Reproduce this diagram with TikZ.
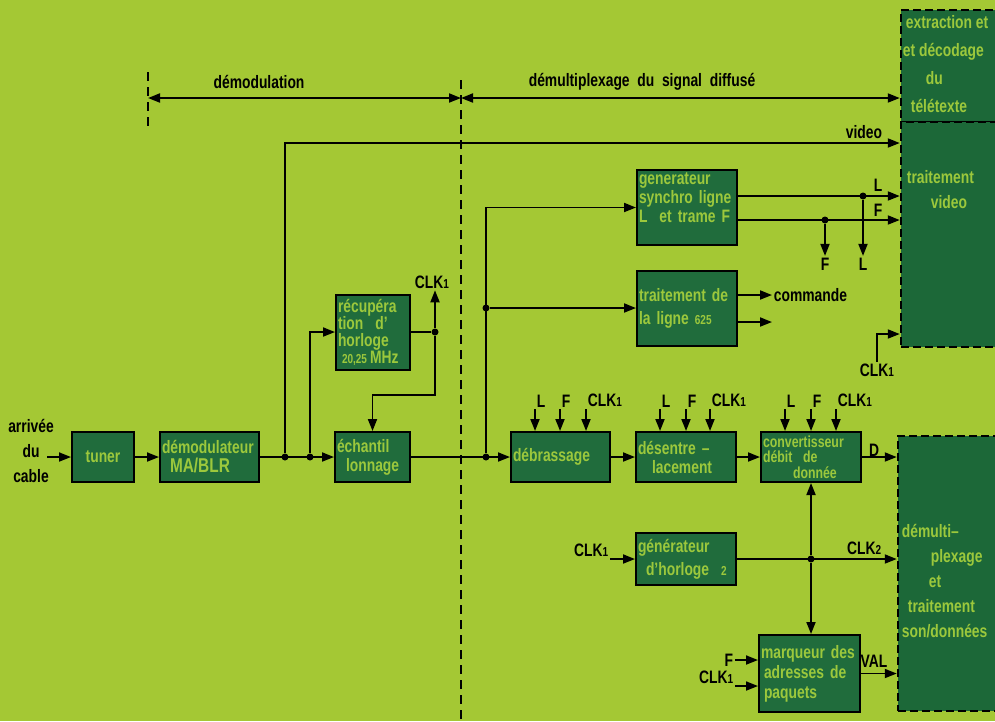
\documentclass[tikz,border=0pt]{standalone}
\usepackage{fontspec}
\setmainfont{Liberation Sans}[FakeStretch=0.77]
\usetikzlibrary{arrows.meta, positioning}

\definecolor{vertfond}{RGB}{164,200,52}
\definecolor{vertbloc}{RGB}{32,108,60}
\definecolor{vertzone}{RGB}{28,104,56}
\definecolor{vertinscr}{RGB}{156,200,60}
\newcommand{\lignes}[1]{\fontsize{18}{#1}\selectfont\bfseries}
\newcommand{\petit}{\fontsize{13}{13}\selectfont}
\newcommand{\clkun}{CLK{\petit 1}}

\begin{document}
\begin{tikzpicture}[x=1pt, y=-1pt, >={Triangle[length=12pt,width=9pt]}, line width=1.8pt, font=\lignes{19},
	bloc/.style={draw, line width=2pt, fill=vertbloc, text=vertinscr, inner sep=2pt, align=left, minimum height=50pt},
	zone/.style={draw, line width=2.5pt, dash pattern=on 8pt off 4pt, fill=vertzone},
	dot/.style={circle, fill=black, inner sep=0pt, minimum size=7pt},
	lbl/.style={inner sep=1pt},
	marque/.style={line width=1.4pt, dash pattern=on 9pt off 6pt}]
				\fill[vertfond] (0,0) rectangle (995,721);
				\useasboundingbox (0,0) rectangle (995,721);
				\clip (0,0) rectangle (995,721);
				
				\node[zone, minimum width=110pt, minimum height=112pt] (telet) at (956,66) {};
				\node[zone, minimum width=110pt, minimum height=225pt] (tvid) at (956,234.5) {};
				\node[zone, minimum width=112pt, minimum height=275pt] (demux) at (954,573.5) {};
				\node[lbl, text=vertinscr, align=left, anchor=west, font=\lignes{28}] (telettxt) at (901,64) {\hspace*{3pt}extraction et\\et décodage\\\hspace*{23pt}du\\\hspace*{8pt}télétexte};
				\node[lbl, text=vertinscr, align=left, anchor=west, font=\lignes{25}] (tvidtxt) at (905,190) {traitement\\\hspace*{24pt}video};
				\node[lbl, text=vertinscr, align=left, anchor=west, font=\lignes{25}] (demuxtxt) at (900,581) {démulti–\\\hspace*{29pt}plexage\\\hspace*{27pt}et\\\hspace*{6pt}traitement\\son/données};
				
				\coordinate (gA) at (148,98);
				\coordinate (gB) at (461,98);
				\draw[marque] (148,72) -- (148,128);
				\draw[marque] (461,80) -- (461,721);
				\draw[<->] (gA) -- (gB);
				\draw[<->] (gB) -- (gB -| telet.west);
				\node[lbl] (tdemod) at (259,82) {démodulation};
				\node[lbl] (tdemux) at (642,82) {démultiplexage~~du~~signal~~diffusé};
				
				\node[lbl, align=center, font=\lignes{25}] (arr) at (31,451) {arrivée\\du\\cable};
				\node[bloc, text width=58pt, align=center] (tuner) at (103,457) {tuner};
				\node[bloc, text width=95pt] (demod) at (209.5,457) {démodulateur\\\hspace*{8pt}{\fontsize{20}{20}\selectfont MA/BLR}};
				\node[bloc, text width=71pt] (echant) at (372.5,457) {échantil\\\hspace*{9pt}lonnage};
				\node[bloc, text width=70pt, minimum height=75pt, font=\lignes{17}] (recup) at (373,332) {récupéra\\tion~~d’\\horloge\\\hspace*{4pt}{\petit 20,25}\,MHz};
				\node[bloc, text width=96pt, minimum height=75pt] (gsync) at (687,207.5) {generateur\\synchro~ligne\\L~~et trame F\\~};
				\node[bloc, text width=96pt, minimum height=75pt] (t625) at (687,308) {traitement de\\[4pt]la ligne {\petit 625}};
				\node[bloc, text width=95pt] (debr) at (560.5,457) {débrassage};
				\node[bloc, text width=96pt] (desent) at (686,457) {désentre –\\\hspace*{14pt}lacement};
				\node[bloc, text width=96pt, inner ysep=1pt, font=\fontsize{16}{15.5}\selectfont\bfseries] (conv) at (811,457) {convertisseur\\débit~~de\\\hspace*{30pt}donnée};
				\node[bloc, text width=96pt, minimum height=52pt, font=\lignes{23}] (genh) at (686,559) {générateur\\\hspace*{8pt}d’horloge~~{\petit 2}};
				\node[bloc, text width=97pt, minimum height=77pt, font=\lignes{20}] (marq) at (809.5,673.5) {marqueur~des\\\hspace*{3pt}adresses de\\\hspace*{3pt}paquets};
				
				\node[dot] (dA) at (285,457) {};
				\node[dot] (dB) at (310,457) {};
				\node[dot] (dR) at (435,332) {};
				\node[dot] (dC) at (486,457) {};
				\node[dot] (dD) at (486,308) {};
				\node[dot] (dL) at (863,196) {};
				\node[dot] (dF) at (825,220) {};
				\node[dot] (dH) at (811,559) {};
				
				\coordinate (entree) at (47,457);
				\draw[->] (entree) -- (tuner);
				\draw[->] (tuner) -- (demod);
				\draw[->] (demod) -- (echant);
				\coordinate (vid) at (285,143);
				\draw[->] (dA) -- (vid) -- (vid -| tvid.west);
				\node[lbl, anchor=south east] (tvideo) at (884,141) {video};
				\draw[->] (dB) |- (recup);
				\draw (recup) -- (dR);
				\node[lbl] (clkr) at (432,282) {\clkun};
				\draw[->] (dR) -- (dR |- clkr.south);
				\coordinate (kR) at (435,395);
				\draw[->] (dR) -- (kR) -| (echant);
				
				\draw[->] (echant) -- (debr);
				\draw[->] (dC) |- (gsync);
				\draw[->] (dD) -- (t625);
				\draw[->] (gsync.east |- dL) -- (tvid.west |- dL);
				\draw[->] (gsync.east |- dF) -- (tvid.west |- dF);
				\node[lbl] (lL) at (878,185) {L};
				\node[lbl] (lF) at (878,210) {F};
				\node[lbl] (bF) at (825,264) {F};
				\node[lbl] (bL) at (863,264) {L};
				\draw[->] (dF) -- (bF);
				\draw[->] (dL) -- (bL);
				\node[lbl, anchor=west] (cmd) at (772,295) {commande};
				\draw[->] (t625.east |- cmd.west) -- (cmd.west);
				\coordinate (sortie) at (772,322);
				\draw[->] (t625.east |- sortie) -- (sortie);
				\node[lbl] (ctv) at (877,370) {\clkun};
				\coordinate (kV) at (877,334);
				\draw[->] (ctv) -- (kV) -- (kV -| tvid.west);
				
				\node[lbl, anchor=south west] (dbL) at (535,409) {L};
				\node[lbl, anchor=south west] (dbF) at (560,409) {F};
				\node[lbl, anchor=south west] (dbC) at (586,409) {\clkun};
				\node[lbl, anchor=south west] (deL) at (660,409) {L};
				\node[lbl, anchor=south west] (deF) at (686,409) {F};
				\node[lbl, anchor=south west] (deC) at (710,409) {\clkun};
				\node[lbl, anchor=south west] (coL) at (785,409) {L};
				\node[lbl, anchor=south west] (coF) at (811,409) {F};
				\node[lbl, anchor=south west] (coC) at (836,409) {\clkun};
				\draw[->] (dbL.south west) -- (dbL.south west |- debr.north);
				\draw[->] (dbF.south west) -- (dbF.south west |- debr.north);
				\draw[->] (dbC.south west) -- (dbC.south west |- debr.north);
				\draw[->] (deL.south west) -- (deL.south west |- desent.north);
				\draw[->] (deF.south west) -- (deF.south west |- desent.north);
				\draw[->] (deC.south west) -- (deC.south west |- desent.north);
				\draw[->] (coL.south west) -- (coL.south west |- conv.north);
				\draw[->] (coF.south west) -- (coF.south west |- conv.north);
				\draw[->] (coC.south west) -- (coC.south west |- conv.north);
				
				\draw[->] (debr) -- (desent);
				\draw[->] (desent) -- (conv);
				\draw[->] (conv) -- (conv -| demux.west);
				\node[lbl] (lD) at (874,450) {D};
				
				\node[lbl, anchor=south east] (ckg) at (610,559) {\clkun};
				\draw[->] (ckg.south east) -- (genh.west);
				\draw[->] (genh) -- (genh -| demux.west);
				\node[lbl, anchor=south east] (lC2) at (883,557) {CLK{\petit 2}};
				\draw[->] (dH) -- (dH |- conv.south);
				\draw[->] (dH) -- (dH |- marq.north);
				\node[lbl, anchor=east] (mF) at (735,660) {F};
				\draw[->] (mF.east) -- (mF.east -| marq.west);
				\node[lbl, anchor=south east] (mC) at (735,686) {\clkun};
				\draw[->] (mC.south east) -- (mC.south east -| marq.west);
				\draw[->] (marq) -- (marq -| demux.west);
				\node[lbl] (lV) at (874,661) {VAL};
			\end{tikzpicture}
\end{document}
